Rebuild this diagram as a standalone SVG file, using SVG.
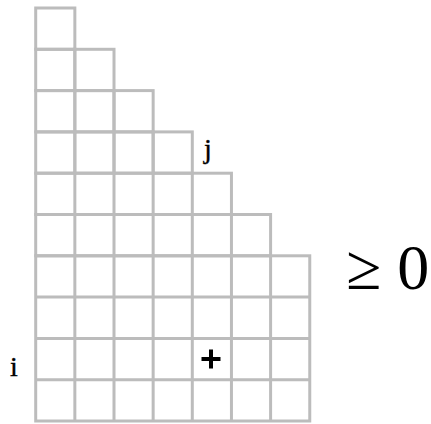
<svg xmlns="http://www.w3.org/2000/svg" width="431" height="424" viewBox="0 0 431 424">
<style>
.c{fill:none;stroke:#bcbcbc;stroke-width:3}
.t{font-family:"Liberation Serif",serif;fill:#000}
</style>
<rect width="431" height="424" fill="#fff"/>
<g id="grid" class="c">
<rect x="35.7" y="8" width="39.15" height="41.3"/>
<rect x="35.7" y="49.3" width="39.15" height="41.3"/><rect x="74.85" y="49.3" width="39.15" height="41.3"/>
<rect x="35.7" y="90.6" width="39.15" height="41.3"/><rect x="74.85" y="90.6" width="39.15" height="41.3"/><rect x="114" y="90.6" width="39.15" height="41.3"/>
<rect x="35.7" y="131.9" width="39.15" height="41.3"/><rect x="74.85" y="131.9" width="39.15" height="41.3"/><rect x="114" y="131.9" width="39.15" height="41.3"/><rect x="153.15" y="131.9" width="39.15" height="41.3"/>
<rect x="35.7" y="173.2" width="195.75" height="41.3"/>
<rect x="35.7" y="214.5" width="234.9" height="41.3"/>
<rect x="35.7" y="255.8" width="274.05" height="165.2"/>
<path d="M74.85 173.2V421M114 173.2V421M153.15 173.2V421M192.3 173.2V421M231.45 214.5V421M270.6 255.8V421M35.7 297.1H309.75M35.7 338.4H309.75M35.7 379.7H309.75"/>
</g>
<text class="t" x="204" y="158" font-size="28" stroke="#000" stroke-width="0.4">j</text>
<text class="t" x="10" y="376" font-size="28" stroke="#000" stroke-width="0.4">i</text>
<path id="plus" d="M201.5 359H220.5M211 349.5V368.5" stroke="#000" stroke-width="4"/>
<text class="t" x="346" y="289" font-size="64">≥ 0</text>
</svg>
